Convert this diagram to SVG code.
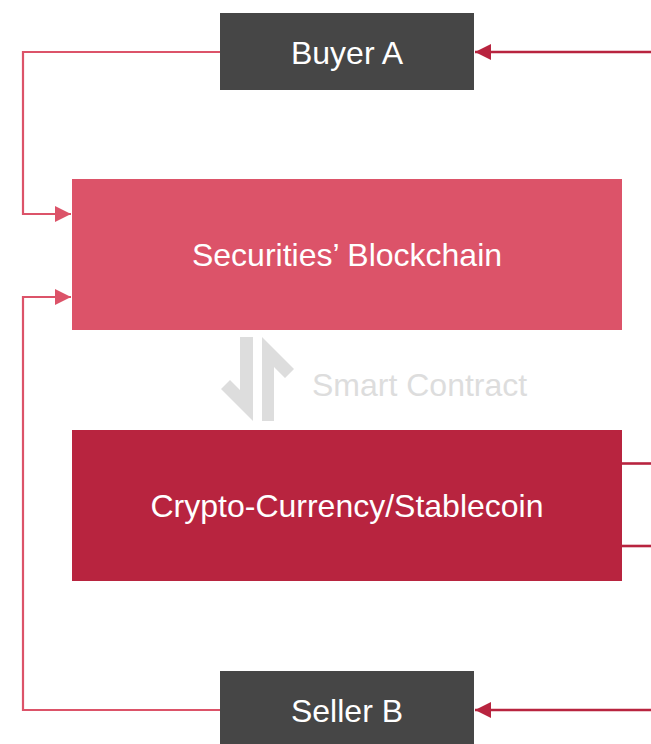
<svg xmlns="http://www.w3.org/2000/svg" width="651" height="744" viewBox="0 0 651 744">
<style>
.lbl{font-family:"Liberation Sans",Arial,sans-serif;font-size:32px;fill:#FFFFFF;text-anchor:middle}
.sc{font-family:"Liberation Sans",Arial,sans-serif;font-size:32px;fill:#DDDDDD}
.pink{fill:none;stroke:#DC5369;stroke-width:2.2}
.red{fill:none;stroke:#B8243F;stroke-width:2.6}
</style>
<defs>
<marker id="ap" markerUnits="userSpaceOnUse" markerWidth="17" markerHeight="17" refX="16" refY="8" orient="auto">
<path d="M0,0 L16,8 L0,16 Z" fill="#DC5369"/>
</marker>
<marker id="ar" markerUnits="userSpaceOnUse" markerWidth="17" markerHeight="17" refX="16" refY="8" orient="auto">
<path d="M0,0 L16,8 L0,16 Z" fill="#B8243F"/>
</marker>
</defs>
<rect width="651" height="744" fill="#FFFFFF"/>
<g id="connectors">
<path class="pink" d="M220,52 H23 V214 H71" marker-end="url(#ap)"/>
<path class="pink" d="M220,710 H23 V297 H71" marker-end="url(#ap)"/>
<path class="red" d="M651,52 H475" marker-end="url(#ar)"/>
<path class="red" d="M651,710 H475" marker-end="url(#ar)"/>
<path class="red" d="M622,463.5 H651"/>
<path class="red" d="M622,546 H651"/>
</g>
<g id="buyer-a">
<rect x="220" y="13" width="254" height="77" fill="#464646"/>
<text class="lbl" x="347" y="63.5">Buyer A</text>
</g>
<g id="securities-blockchain">
<rect x="72" y="179" width="550" height="151" fill="#DC5369"/>
<text class="lbl" x="347" y="266">Securities’ Blockchain</text>
</g>
<g id="smart-contract">
<polygon points="240,337 253,337 253,421 221,389 230,380 240,390" fill="#DDDDDD"/>
<polygon points="262,337 294,369 285,378 274,367 274,421 262,421" fill="#DDDDDD"/>
<text class="sc" x="312" y="395.5">Smart Contract</text>
</g>
<g id="crypto-currency">
<rect x="72" y="430" width="550" height="151" fill="#B8243F"/>
<text class="lbl" x="347" y="517">Crypto-Currency/Stablecoin</text>
</g>
<g id="seller-b">
<rect x="220" y="671" width="254" height="73" fill="#464646"/>
<text class="lbl" x="347" y="721.5">Seller B</text>
</g>
</svg>
